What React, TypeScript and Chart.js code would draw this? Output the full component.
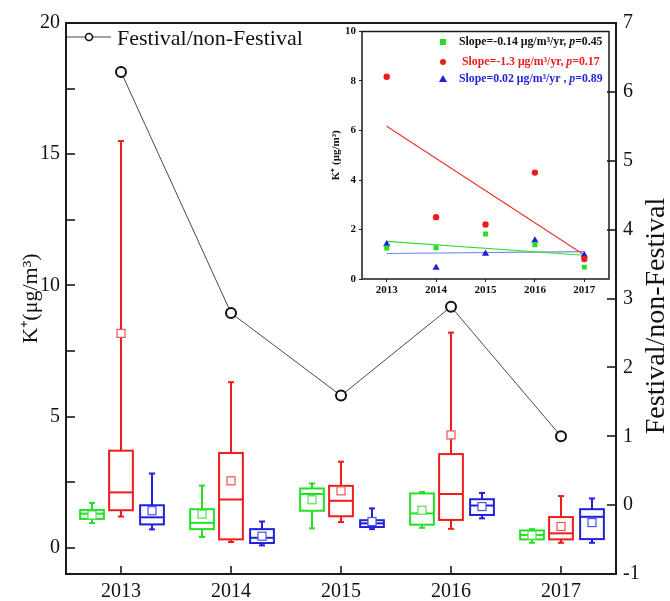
import React, { useEffect, useRef } from 'react';
import { Chart, registerables } from 'chart.js';

Chart.register(...registerables);

// ---------- data ----------
const years = [2013, 2014, 2015, 2016, 2017];
const ratio = [6.29, 2.79, 1.59, 2.88, 1.0];

const greenLow = [0.94, 0.41, 0.74, 0.76, 0.19];
const greenQ1 = [1.1, 0.71, 1.41, 0.88, 0.32];
const greenMed = [1.3, 0.95, 2.05, 1.31, 0.49];
const greenQ3 = [1.44, 1.47, 2.26, 2.07, 0.66];
const greenHigh = [1.71, 2.37, 2.45, 2.13, 0.71];
const greenMean = [1.25, 1.28, 1.83, 1.43, 0.48];

const redLow = [1.19, 0.22, 0.98, 0.72, 0.19];
const redQ1 = [1.43, 0.32, 1.2, 1.06, 0.32];
const redMed = [2.11, 1.84, 1.79, 2.05, 0.55];
const redQ3 = [3.7, 3.61, 2.36, 3.57, 1.17];
const redHigh = [15.5, 6.31, 3.28, 8.2, 1.97];
const redMean = [8.17, 2.55, 2.17, 4.3, 0.81];

const blueLow = [0.7, 0.09, 0.71, 1.12, 0.19];
const blueQ1 = [0.89, 0.18, 0.79, 1.25, 0.33];
const blueMed = [1.16, 0.38, 0.93, 1.61, 1.18];
const blueQ3 = [1.62, 0.71, 1.05, 1.85, 1.47];
const blueHigh = [2.83, 1.0, 1.5, 2.09, 1.88];
const blueMean = [1.41, 0.44, 1.0, 1.57, 0.96];

const leftTicks = [0, 5, 10, 15, 20];
const leftTickMarks = [0, 2.5, 5, 7.5, 10, 12.5, 15, 17.5, 20];
const rightTicks = [-1, 0, 1, 2, 3, 4, 5, 6, 7];

// inset
const insetGreen = [1.25, 1.26, 1.82, 1.38, 0.48];
const insetRed = [8.17, 2.5, 2.2, 4.3, 0.81];
const insetBlue = [1.41, 0.46, 1.02, 1.56, 0.96];
const fitYears = [2013, 2017];
const fitGreen = [1.52, 0.96];
const fitRed = [6.17, 0.97];
const fitBlue = [1.03, 1.11];
const insetYTicks = [0, 2, 4, 6, 8, 10];

const legendGreen = ['Slope=-0.14 μg/m³/yr, ', 'p', '=0.45'];
const legendRed = ['Slope=-1.3 μg/m³/yr, ', 'p', '=0.17'];
const legendBlue = ['Slope=0.02 μg/m³/yr , ', 'p', '=0.89'];

const mainTitleLeft = 'K⁺(μg/m³)';
const mainTitleRight = 'Festival/non-Festival';
const mainLegend = 'Festival/non-Festival';
const insetTitle = 'K⁺ (μg/m³)';

// ---------- styles ----------
const SERIF = '"Liberation Serif", "Times New Roman", serif';
const GREEN = '#22e022';
const RED = '#f01c1c';
const BLUE = '#1f1fe0';

const boxSeries = [
  { color: GREEN, meanColor: '#55e055', offset: -0.265, low: greenLow, q1: greenQ1, med: greenMed, q3: greenQ3, high: greenHigh, mean: greenMean },
  { color: RED, meanColor: '#f05050', offset: 0, low: redLow, q1: redQ1, med: redMed, q3: redQ3, high: redHigh, mean: redMean },
  { color: BLUE, meanColor: '#5050e0', offset: 0.28, low: blueLow, q1: blueQ1, med: blueMed, q3: blueQ3, high: blueHigh, mean: blueMean },
];

const line = (ctx: CanvasRenderingContext2D, x1: number, y1: number, x2: number, y2: number) => {
  ctx.beginPath();
  ctx.moveTo(x1, y1);
  ctx.lineTo(x2, y2);
  ctx.stroke();
};

const boxPlugin = {
  id: 'boxes',
  beforeDatasetsDraw(chart: any) {
    const { ctx, scales } = chart;
    const x = scales.x;
    const y = scales.y;
    ctx.save();
    boxSeries.forEach((s) => {
      years.forEach((yr, i) => {
        const cx = Math.round(x.getPixelForValue(yr + s.offset));
        const hw = x.getPixelForValue(yr + 0.108) - x.getPixelForValue(yr);
        const pLow = y.getPixelForValue(s.low[i]);
        const pQ1 = y.getPixelForValue(s.q1[i]);
        const pMed = y.getPixelForValue(s.med[i]);
        const pQ3 = y.getPixelForValue(s.q3[i]);
        const pHigh = y.getPixelForValue(s.high[i]);
        const pMean = y.getPixelForValue(s.mean[i]);
        ctx.strokeStyle = s.color;
        ctx.lineWidth = 2;
        ctx.strokeRect(cx - hw, pQ3, 2 * hw, pQ1 - pQ3);
        line(ctx, cx - hw, pMed, cx + hw, pMed);
        line(ctx, cx, pQ3, cx, pHigh);
        line(ctx, cx - 3, pHigh, cx + 3, pHigh);
        line(ctx, cx, pQ1, cx, pLow);
        line(ctx, cx - 3, pLow, cx + 3, pLow);
        ctx.fillStyle = '#fff';
        ctx.fillRect(cx - 4, pMean - 4, 8, 8);
        ctx.lineWidth = 1.2;
        ctx.strokeStyle = s.meanColor;
        ctx.strokeRect(cx - 4, pMean - 4, 8, 8);
      });
    });
    ctx.restore();
  },
};

const mainFramePlugin = {
  id: 'mainFrame',
  afterDraw(chart: any) {
    const { ctx, chartArea: a, scales } = chart;
    ctx.save();
    ctx.strokeStyle = '#1a1a1a';
    ctx.lineWidth = 2;
    ctx.strokeRect(a.left, a.top, a.right - a.left, a.bottom - a.top);
    ctx.lineWidth = 1.6;
    leftTickMarks.forEach((v) => {
      const py = Math.round(scales.y.getPixelForValue(v));
      line(ctx, a.left, py, a.left + 9, py);
    });
    rightTicks.forEach((v) => {
      const py = Math.round(scales.y2.getPixelForValue(v));
      line(ctx, a.right - 9, py, a.right, py);
    });
    years.forEach((v) => {
      const px = Math.round(scales.x.getPixelForValue(v));
      line(ctx, px, a.bottom - 8, px, a.bottom);
    });
    // axis titles
    ctx.fillStyle = '#111';
    ctx.font = `22px ${SERIF}`;
    ctx.textAlign = 'center';
    ctx.textBaseline = 'middle';
    ctx.save();
    ctx.translate(31, (a.top + a.bottom) / 2);
    ctx.rotate(-Math.PI / 2);
    ctx.fillText(mainTitleLeft, 0, 0);
    ctx.restore();
    ctx.save();
    ctx.font = `28px ${SERIF}`;
    ctx.translate(657, 316);
    ctx.rotate(-Math.PI / 2);
    ctx.fillText(mainTitleRight, 0, 0);
    ctx.restore();
    // legend
    ctx.strokeStyle = '#444';
    ctx.lineWidth = 1;
    line(ctx, a.left + 1, 37, a.left + 45, 37);
    ctx.beginPath();
    ctx.arc(a.left + 23, 37, 3.5, 0, Math.PI * 2);
    ctx.fillStyle = '#fff';
    ctx.fill();
    ctx.strokeStyle = '#111';
    ctx.lineWidth = 1.6;
    ctx.stroke();
    ctx.fillStyle = '#111';
    ctx.font = `22px ${SERIF}`;
    ctx.textAlign = 'left';
    ctx.textBaseline = 'alphabetic';
    ctx.fillText(mainLegend, a.left + 51, 45);
    ctx.restore();
  },
};

const insetLegendRows = [
  { color: '#111', marker: 'rect', markerColor: GREEN, parts: legendGreen, x: 129, y: 22 },
  { color: RED, marker: 'circle', markerColor: RED, parts: legendRed, x: 132, y: 42 },
  { color: BLUE, marker: 'triangle', markerColor: BLUE, parts: legendBlue, x: 129, y: 59 },
];

const insetPlugin = {
  id: 'insetFrame',
  afterDraw(chart: any) {
    const { ctx, chartArea: a } = chart;
    ctx.save();
    ctx.strokeStyle = '#1a1a1a';
    ctx.lineWidth = 1.5;
    ctx.strokeRect(a.left, a.top, a.right - a.left, a.bottom - a.top);
    // title
    ctx.fillStyle = '#111';
    ctx.font = `bold 11px ${SERIF}`;
    ctx.textAlign = 'center';
    ctx.textBaseline = 'middle';
    ctx.save();
    ctx.translate(6, (a.top + a.bottom) / 2);
    ctx.rotate(-Math.PI / 2);
    ctx.fillText(insetTitle, 0, 0);
    ctx.restore();
    // legend
    insetLegendRows.forEach((r) => {
      const mx = 113;
      ctx.fillStyle = r.markerColor;
      if (r.marker === 'rect') {
        ctx.fillRect(mx - 3, r.y - 3, 6, 6);
      } else if (r.marker === 'circle') {
        ctx.beginPath();
        ctx.arc(mx, r.y, 3, 0, Math.PI * 2);
        ctx.fill();
      } else {
        ctx.beginPath();
        ctx.moveTo(mx, r.y - 4);
        ctx.lineTo(mx + 4, r.y + 3);
        ctx.lineTo(mx - 4, r.y + 3);
        ctx.closePath();
        ctx.fill();
      }
      ctx.fillStyle = r.color;
      ctx.textAlign = 'left';
      ctx.textBaseline = 'middle';
      let tx = r.x;
      r.parts.forEach((p, idx) => {
        ctx.font = idx === 1 ? `italic bold 11.8px ${SERIF}` : `bold 11.8px ${SERIF}`;
        ctx.fillText(p, tx, r.y);
        tx += ctx.measureText(p).width;
      });
    });
    ctx.restore();
  },
};

const pts = (xs: number[], ys: number[]) => xs.map((v, i) => ({ x: v, y: ys[i] }));

export default function App() {
  const mainRef = useRef<HTMLCanvasElement>(null);
  const insetRef = useRef<HTMLCanvasElement>(null);

  useEffect(() => {
    const main = new Chart(mainRef.current as HTMLCanvasElement, {
      type: 'scatter',
      data: {
        datasets: [
          {
            label: mainLegend,
            data: pts(years, ratio),
            yAxisID: 'y2',
            showLine: true,
            borderColor: '#4a4a4a',
            borderWidth: 1,
            pointRadius: 5,
            pointBorderWidth: 2,
            pointBorderColor: '#111',
            pointBackgroundColor: '#fff',
          },
        ],
      },
      options: {
        responsive: false,
        animation: false,
        devicePixelRatio: 1,
        layout: { padding: { top: 23, left: 0, right: 0, bottom: 0 } },
        plugins: { legend: { display: false }, tooltip: { enabled: false } },
        scales: {
          x: {
            type: 'linear',
            min: 2012.5,
            max: 2017.5,
            grid: { display: false, drawTicks: false },
            border: { display: false },
            afterBuildTicks: (s: any) => { s.ticks = years.map((v) => ({ value: v })); },
            afterFit: (s: any) => { s.height = 27; },
            ticks: {
              autoSkip: false,
              maxRotation: 0,
              padding: 6,
              color: '#111',
              font: { family: SERIF, size: 20 },
              callback: (v: any) => String(v),
            },
          },
          y: {
            position: 'left',
            min: -1,
            max: 20,
            grid: { display: false, drawTicks: false },
            border: { display: false },
            afterBuildTicks: (s: any) => { s.ticks = leftTicks.map((v) => ({ value: v })); },
            afterFit: (s: any) => { s.width = 66; },
            ticks: {
              autoSkip: false,
              padding: 6,
              color: '#111',
              font: { family: SERIF, size: 20 },
              callback: (v: any) => String(v),
            },
          },
          y2: {
            position: 'right',
            min: -1,
            max: 7,
            grid: { display: false, drawTicks: false },
            border: { display: false },
            afterBuildTicks: (s: any) => { s.ticks = rightTicks.map((v) => ({ value: v })); },
            afterFit: (s: any) => { s.width = 54; },
            ticks: {
              autoSkip: false,
              padding: 7,
              color: '#111',
              font: { family: SERIF, size: 20 },
              callback: (v: any) => String(v),
            },
          },
        },
      },
      plugins: [boxPlugin, mainFramePlugin],
    } as any);

    const inset = new Chart(insetRef.current as HTMLCanvasElement, {
      type: 'scatter',
      data: {
        datasets: [
          { data: pts(years, insetGreen), pointStyle: 'rect', pointRadius: 3.5, backgroundColor: GREEN, borderColor: GREEN, borderWidth: 0, order: 0 },
          { data: pts(years, insetRed), pointStyle: 'circle', pointRadius: 3.2, backgroundColor: RED, borderColor: RED, borderWidth: 0, order: 0 },
          { data: pts(years, insetBlue), pointStyle: 'triangle', pointRadius: 4.2, backgroundColor: BLUE, borderColor: BLUE, borderWidth: 0, order: 0 },
          { data: pts(fitYears, fitGreen), showLine: true, pointRadius: 0, borderColor: '#33dd33', borderWidth: 1.2, order: 1 },
          { data: pts(fitYears, fitRed), showLine: true, pointRadius: 0, borderColor: '#ee3333', borderWidth: 1.2, order: 1 },
          { data: pts(fitYears, fitBlue), showLine: true, pointRadius: 0, borderColor: '#7585ee', borderWidth: 1.2, order: 1 },
        ],
      },
      options: {
        responsive: false,
        animation: false,
        devicePixelRatio: 1,
        layout: { padding: { top: 11.5, left: 0, right: 11, bottom: 0 } },
        plugins: { legend: { display: false }, tooltip: { enabled: false } },
        scales: {
          x: {
            type: 'linear',
            min: 2012.5,
            max: 2017.5,
            grid: { display: true, drawOnChartArea: false, drawTicks: true, tickLength: 3, color: '#222' },
            border: { display: false },
            afterBuildTicks: (s: any) => { s.ticks = years.map((v) => ({ value: v })); },
            afterFit: (s: any) => { s.height = 31; },
            ticks: {
              autoSkip: false,
              maxRotation: 0,
              padding: 2,
              color: '#111',
              font: { family: SERIF, size: 11, weight: 'bold' },
              callback: (v: any) => String(v),
            },
          },
          y: {
            min: 0,
            max: 10,
            grid: { display: true, drawOnChartArea: false, drawTicks: true, tickLength: 3, color: '#222' },
            border: { display: false },
            afterBuildTicks: (s: any) => { s.ticks = insetYTicks.map((v) => ({ value: v })); },
            afterFit: (s: any) => { s.width = 32; },
            ticks: {
              autoSkip: false,
              padding: 3,
              color: '#111',
              font: { family: SERIF, size: 11, weight: 'bold' },
              callback: (v: any) => String(v),
            },
          },
        },
      },
      plugins: [insetPlugin],
    } as any);

    return () => {
      main.destroy();
      inset.destroy();
    };
  }, []);

  return (
    <div style={{ position: 'absolute', left: 0, top: 0, width: 670, height: 601, background: '#fff' }}>
      <canvas ref={mainRef} width={670} height={601} style={{ position: 'absolute', left: 0, top: 0, display: 'block' }} />
      <canvas ref={insetRef} width={290} height={290} style={{ position: 'absolute', left: 330, top: 20, display: 'block' }} />
    </div>
  );
}
